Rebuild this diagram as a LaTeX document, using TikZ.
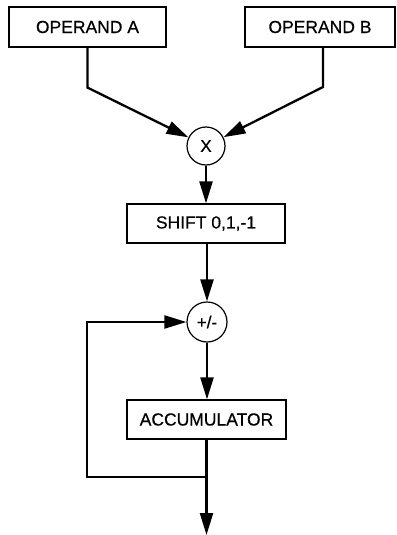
\documentclass[tikz,border=0pt]{standalone}
\usepackage{fontspec}
\setmainfont{Liberation Sans}
\newfontfamily\lblfont{Liberation Sans}[FakeBold=0.5]
\usetikzlibrary{arrows.meta}
\begin{document}
\begin{tikzpicture}[x=1pt,y=-1pt,
  blockbox/.style={draw, line width=1.2pt, inner sep=0pt, font=\lblfont\fontsize{17.5}{19}\selectfont},
  opcircle/.style={draw, circle, line width=1.2pt, minimum size=38pt, inner sep=0pt, font=\lblfont\fontsize{17}{19}\selectfont},
  flow/.style={line width=2.3pt, -{Triangle[length=22pt,width=13pt]}},
  plain/.style={line width=2.3pt}]
\useasboundingbox (0,0) rectangle (396,535);
% input operands
\node[blockbox, minimum width=157pt, minimum height=40pt] (opa) at (87.5,27) {OPERAND A};
\node[blockbox, minimum width=150pt, minimum height=40pt] (opb) at (320,27) {OPERAND B};
% multiplier
\node[opcircle] (mul) at (206,146) {X};
% shifter
\node[blockbox, minimum width=158pt, minimum height=39pt] (shift) at (206,223.5) {SHIFT 0,1,-1};
% adder / subtractor
\node[opcircle, minimum size=40pt] (add) at (207,322) {+/-};
% accumulator
\node[blockbox, minimum width=159pt, minimum height=39pt] (acc) at (206.5,419.5) {ACCUMULATOR};
% output end and feedback corners
\coordinate (out) at (206.5,535);
\coordinate (tap) at (206.5,477);
\coordinate (fbl) at (87,477);
\coordinate (fbt) at (87,322);
% connectors
\draw[flow] (opa.south) -- ++(0,40) -- (mul);
\draw[flow] (opb.south -| 323,0) -- (323,87) -- (mul);
\draw[flow] (mul.south) -- (shift.north -| mul.south);
\draw[flow] (shift.south -| add.north) -- (add.north);
\draw[flow] (add.south) -- (acc.north -| add.south);
\draw[flow] (acc.south) -- (out);
\draw[plain, line cap=rect] (tap) -- (fbl) -- (fbt);
\draw[flow] (fbt) -- (add.west);
\end{tikzpicture}
\end{document}
